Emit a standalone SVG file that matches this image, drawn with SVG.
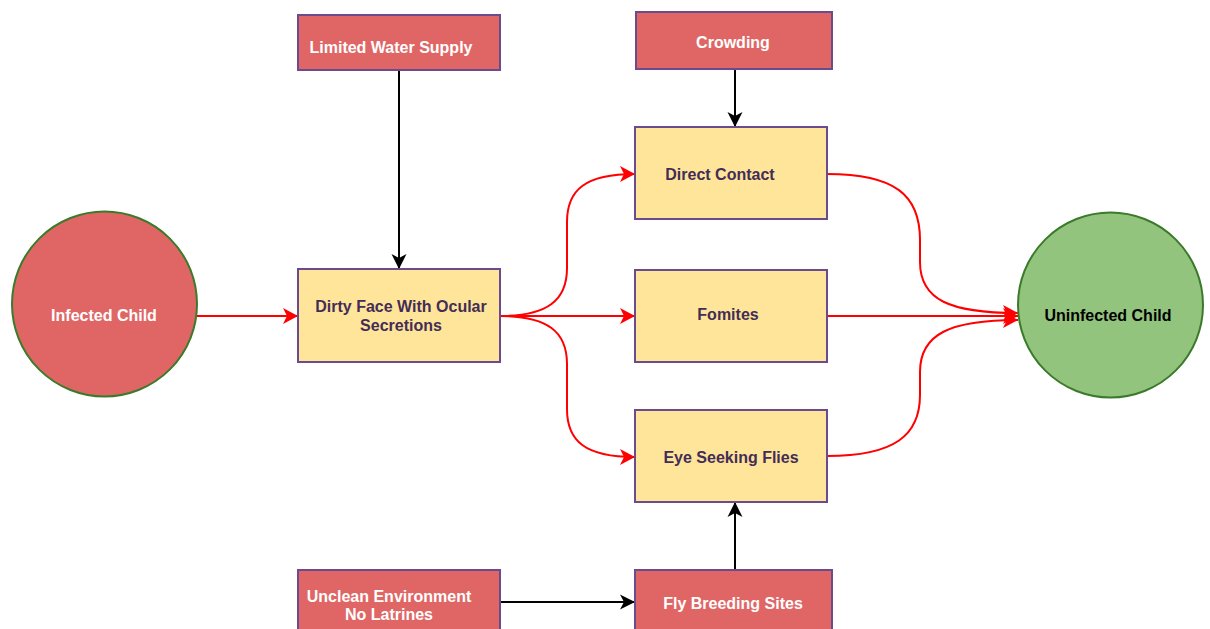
<svg xmlns="http://www.w3.org/2000/svg" width="1210" height="629" viewBox="0 0 1210 629">
<defs>
<style>
.red{fill:#E06666;stroke:#6B4A8E;stroke-width:2}
.yel{fill:#FFE599;stroke:#6B4A8E;stroke-width:2}
.circ{stroke:#3A7A2A;stroke-width:2}
text{font-family:"Liberation Sans",Arial,sans-serif;font-weight:bold;font-size:16px;text-anchor:middle}
.w{fill:#FFFFFF}
.p{fill:#432D57}
.k{fill:#000000}
.rl{fill:none;stroke:#FF0000;stroke-width:2}
.bl{fill:none;stroke:#000000;stroke-width:2}
</style>
<marker id="ar" markerUnits="userSpaceOnUse" markerWidth="17" markerHeight="17" refX="15" refY="8" orient="auto">
<path d="M0,0 L15,8 L0,16 L4,8 Z" fill="#FF0000"/>
</marker>
<marker id="ab" markerUnits="userSpaceOnUse" markerWidth="17" markerHeight="17" refX="15" refY="8" orient="auto">
<path d="M0,0.5 L15,8 L0,15.5 L4,8 Z" fill="#000000"/>
</marker>
</defs>
<rect width="1210" height="629" fill="#FFFFFF"/>
<g id="connectors">
<path class="rl" d="M197,316 L298,316" marker-end="url(#ar)"/>
<path class="bl" d="M399,70 L399,269" marker-end="url(#ab)"/>
<path class="bl" d="M735,69 L735,127" marker-end="url(#ab)"/>
<path class="rl" d="M500,316 C548,316 567,300 567,268 L567,222 C567,190 585,174 635,174" marker-end="url(#ar)"/>
<path class="rl" d="M500,316 L635,316" marker-end="url(#ar)"/>
<path class="rl" d="M500,316 C548,316 567,332 567,364 L567,409 C567,441 585,457 635,457" marker-end="url(#ar)"/>
<path class="rl" d="M827,174 C895,174 920,195 920,240 L920,262 C920,300 950,313 1018,313" marker-end="url(#ar)"/>
<path class="rl" d="M827,316 L1018,316" marker-end="url(#ar)"/>
<path class="rl" d="M827,456 C895,456 920,435 920,395 L920,372 C920,334 950,320 1018,320" marker-end="url(#ar)"/>
<path class="bl" d="M500,602 L635,602" marker-end="url(#ab)"/>
<path class="bl" d="M735,570 L735,502" marker-end="url(#ab)"/>
</g>
<g id="limited-water">
<rect class="red" x="298" y="15" width="202" height="55"/>
<text class="w" x="391" y="53">Limited Water Supply</text>
</g>
<g id="crowding">
<rect class="red" x="636" y="12" width="196" height="57"/>
<text class="w" x="733" y="48">Crowding</text>
</g>
<g id="infected-child">
<circle class="circ" cx="104.5" cy="304" r="92.5" fill="#E06666"/>
<text class="w" x="104" y="321">Infected Child</text>
</g>
<g id="dirty-face">
<rect class="yel" x="298" y="269" width="202" height="93"/>
<text class="p" x="401" y="312">Dirty Face With Ocular</text>
<text class="p" x="401" y="331">Secretions</text>
</g>
<g id="direct-contact">
<rect class="yel" x="635" y="127" width="192" height="92"/>
<text class="p" x="720" y="180">Direct Contact</text>
</g>
<g id="fomites">
<rect class="yel" x="635" y="270" width="192" height="92"/>
<text class="p" x="728" y="320">Fomites</text>
</g>
<g id="eye-seeking-flies">
<rect class="yel" x="635" y="410" width="192" height="92"/>
<text class="p" x="731" y="463">Eye Seeking Flies</text>
</g>
<g id="uninfected-child">
<circle class="circ" cx="1110.5" cy="305" r="92.5" fill="#93C47D"/>
<text class="k" x="1108" y="321">Uninfected Child</text>
</g>
<g id="unclean-environment">
<rect class="red" x="298" y="570" width="202" height="62"/>
<text class="w" x="389" y="602">Unclean Environment</text>
<text class="w" x="389" y="620">No Latrines</text>
</g>
<g id="fly-breeding">
<rect class="red" x="635" y="570" width="197" height="62"/>
<text class="w" x="733" y="609">Fly Breeding Sites</text>
</g>
</svg>
